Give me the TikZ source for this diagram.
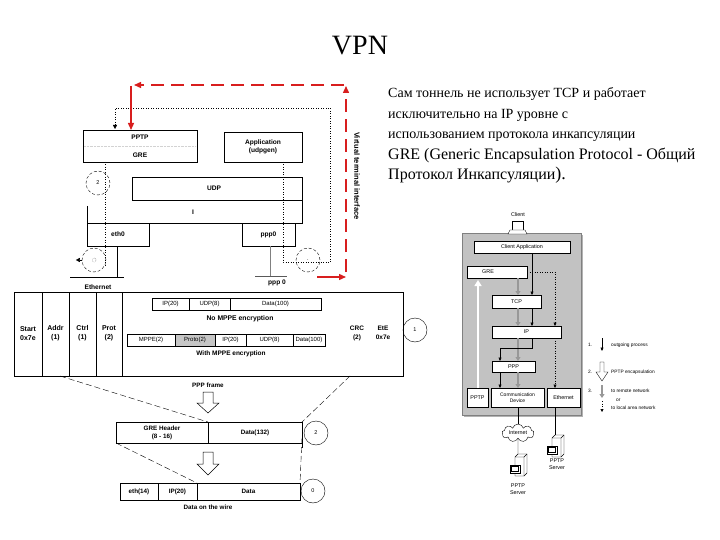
\documentclass[tikz,border=0pt]{standalone}
\usepackage{fontspec}
\setmainfont{Liberation Serif}
\setsansfont{Liberation Sans}
\usetikzlibrary{arrows.meta,shapes.symbols}
\definecolor{redarr}{HTML}{D81E1E}
\definecolor{panelgray}{HTML}{C2C2C2}
\definecolor{arrgray}{HTML}{989898}
\newcommand\hollowdown[4]{%
  \draw[line width=0.5pt,fill=white] (#1-5,#2) -- (#1+5,#2) -- (#1+5,#4) -- (#1+11,#4) -- (#1,#3) -- (#1-11,#4) -- (#1-5,#4) -- cycle;}
\newcommand\servericon[2]{%
  \draw[line width=0.4pt,fill=white] (#1-4,#2-9) -- (#1-1,#2-12) -- (#1+8,#2-12) -- (#1+8,#2+7) -- (#1+5,#2+10) -- (#1-4,#2+10) -- cycle;
  \draw[line width=0.4pt] (#1-4,#2-9) -- (#1+5,#2-9) -- (#1+8,#2-12) (#1+5,#2-9) -- (#1+5,#2+10);
  \draw[line width=0.4pt,fill=white] (#1-9,#2-1) rectangle (#1+1,#2+7);
  \draw[line width=0.3pt] (#1-7.5,#2+0.5) rectangle (#1-0.5,#2+5.5);}
\tikzset{
  lb/.style={font=\sffamily\bfseries\fontsize{6.6}{7.6}\selectfont,inner sep=0pt,align=center},
  tlb/.style={font=\sffamily\bfseries\fontsize{7}{9}\selectfont,inner sep=0pt,align=center},
  tb/.style={font=\sffamily\fontsize{6}{7}\selectfont,inner sep=0pt,align=center},
  rl/.style={font=\sffamily\fontsize{5.4}{6.4}\selectfont,inner sep=0pt,align=center},
  lg/.style={font=\sffamily\fontsize{4.8}{5.6}\selectfont,inner sep=0pt,align=center},
  bx/.style={draw,line width=0.5pt,inner sep=0pt,outer sep=0pt,anchor=north west,fill=white},
  ring/.style={draw,circle,line width=0.4pt,minimum size=24pt,inner sep=0pt,font=\sffamily\fontsize{5.5}{6}\selectfont},
  dring/.style={ring,densely dashed},
  rdash/.style={draw=redarr,line width=1.4pt,dash pattern=on 13pt off 7pt},
  rtip/.style={-{Triangle[length=7pt,width=6pt]}},
  dotl/.style={draw,line width=0.5pt,dotted},
  dashl/.style={draw,line width=0.4pt,dash pattern=on 6pt off 3pt},
  blk/.style={draw,line width=0.5pt,-{Triangle[length=3.5pt,width=3pt]}},
  gra/.style={draw=arrgray,line width=2pt,-{Triangle[length=4pt,width=5pt]}},
  parafont/.style={font=\fontsize{14}{20}\selectfont,inner sep=0pt,anchor=base west},
  parabig/.style={font=\fontsize{16}{20}\selectfont,inner sep=0pt,anchor=base west},
}
\begin{document}
\begin{tikzpicture}[x=1pt,y=-1pt]
\useasboundingbox (0,0) rectangle (720,540);
\fill[white] (0,0) rectangle (720,540);
% title and text
\node[font=\fontsize{28}{32}\selectfont,inner sep=0pt] (title) at (360,46) {VPN};
\node[parafont] (p1) at (388,98) {Сам тоннель не использует TCP и работает};
\node[parafont] (p2) at (388,118.5) {исключительно на IP уровне с};
\node[parafont] (p3) at (388,139) {использованием протокола инкапсуляции};
\node[parabig] (p4) at (388,159.5) {GRE (Generic Encapsulation Protocol - Общий};
\node[parabig] (p5) at (388,180) {Протокол Инкапсуляции{\fontsize{18}{20}\selectfont).}};

% ===== left top diagram =====
\node[bx,minimum width=114pt,minimum height=32pt] (pptp) at (83,130) {};
\node[lb] (pptpt) at (140,137) {PPTP};
\node[lb] (gret) at (140,155) {GRE};
\draw[gray!35,line width=0.4pt,densely dotted] (84,146) -- (196,146);
\node[bx,minimum width=78pt,minimum height=30pt] (app) at (224,132) {};
\node[lb] (appt) at (263,147) {Application\\(udpgen)};
\node[bx,minimum width=170pt,minimum height=23pt] (udp) at (132,177) {};
\node[lb] (udpt) at (214,188.5) {UDP};
\node[inner sep=0pt,outer sep=0pt,anchor=north west,minimum width=215pt,minimum height=23pt] (ipb) at (87,200) {};
\draw[line width=0.5pt] (87,206) -- (ipb.south west) -- (ipb.south east) -- (ipb.north east);
\node[lb] (ipt) at (193,212) {I};
\node[bx,minimum width=62pt,minimum height=23pt,lb] (eth) at (87,223) {eth0};
\node[bx,minimum width=53pt,minimum height=23pt,lb] (ppp) at (242,223) {ppp0};

\draw[dotl,-{Triangle[length=4pt,width=4pt]}] (283,162) -- (283,262) -- (330,262) -- (330,108) -- (115,108) -- (115,129);
\draw[dotl] (105,162) -- (105,266);

\node[dring] (c2) at (98,183) {2};
\node[dring] (c0a) at (94,260) {};
\node[circle,draw,densely dotted,inner sep=0pt,minimum size=4pt,line width=0.3pt] (c0dot) at (94,260) {};
\draw[line width=0.5pt,-{Triangle[length=4pt,width=4pt]}] (c0a.west) -- ++(-6,0);
\node[dring] (c1a) at (308,260) {.};

\coordinate (ethfoot) at (117,277);
\draw[line width=0.6pt] (117,246) -- (ethfoot);
\draw[line width=0.9pt] (70,277) -- (124,277);
\node[lb] (ethl) at (98,287) {Ethernet};
\coordinate (pppfoot) at (270,276);
\draw[gray,line width=0.4pt] (270,246) -- (pppfoot);
\draw[gray!70!black,line width=0.6pt] (255,276) -- (287,276);
\node[lb] (ppp0l) at (277,283) {ppp 0};

\draw[redarr,line width=1.4pt,rtip] (317,277) -- (346,277);
\draw[rdash,rtip] (346,272) -- (346,86);
\draw[rdash,rtip] (344,85) -- (134,85);
\draw[redarr,line width=1.4pt,rtip] (131,86) -- (pptp.north -| 131,0);
\node[lb,rotate=-90,font=\sffamily\bfseries\fontsize{7.5}{9}\selectfont] (vti) at (357,176) {Virtual terminal interface};

% ===== PPP frame table =====
\node[bx,fill=none,line width=0.5pt,minimum width=389pt,minimum height=84pt] (tbl) at (14,292) {};
\foreach \xx in {42,69,96,122} \draw[line width=0.5pt] (\xx,292) -- (\xx,376);
\node[tlb] (st) at (28,333.5) {Start\\0x7e};
\node[tlb] (ad) at (55.5,333.5) {Addr\\(1)};
\node[tlb] (ct) at (82.5,333.5) {Ctrl\\(1)};
\node[tlb] (pr) at (109,333.5) {Prot\\(2)};
\node[tlb,font=\sffamily\bfseries\fontsize{6.5}{9}\selectfont] (crc) at (357,333) {CRC\\(2)};
\node[tlb,font=\sffamily\bfseries\fontsize{6.5}{9}\selectfont] (ete) at (383,333) {EtE\\0x7e};
\node[ring] (c1) at (415,330) {1};

\node[bx,tb,minimum width=37pt,minimum height=12pt] (n1) at (152,298) {IP(20)};
\node[bx,tb,minimum width=41pt,minimum height=12pt] (n2) at (189,298) {UDP(8)};
\node[bx,tb,minimum width=91pt,minimum height=12pt] (n3) at (230,298) {Data(100)};
\node[tlb,font=\sffamily\bfseries\fontsize{6.8}{8}\selectfont] (nol) at (240,319) {No MPPE encryption};

\node[bx,tb,minimum width=48pt,minimum height=12pt] (m1) at (127,334) {MPPE(2)};
\node[bx,tb,minimum width=40pt,minimum height=12pt,fill=gray!45] (m2) at (175,334) {Proto(2)};
\node[bx,tb,minimum width=31pt,minimum height=12pt] (m3) at (215,334) {IP(20)};
\node[bx,tb,minimum width=47pt,minimum height=12pt] (m4) at (246,334) {UDP(8)};
\node[bx,tb,minimum width=32pt,minimum height=12pt] (m5) at (293,334) {Data(100)};
\node[tlb,font=\sffamily\bfseries\fontsize{6.5}{8}\selectfont] (withl) at (231,354) {With MPPE encryption};

\node[tlb,font=\sffamily\bfseries\fontsize{6.3}{7}\selectfont] (pppf) at (208,385) {PPP frame};
\hollowdown{208}{392}{413}{403}

% GRE row
\node[bx,tb,minimum width=92pt,minimum height=21pt,font=\sffamily\bfseries\fontsize{6.3}{8}\selectfont] (gh) at (116,422) {GRE Header\\(8 - 16)};
\node[bx,tb,minimum width=94pt,minimum height=21pt,font=\sffamily\bfseries\fontsize{6.3}{8}\selectfont] (gd) at (208,422) {Data(132)};
\draw[line width=0.5pt] (gd.south east) -- ++(0,5);
\node[ring] (c2b) at (316,433) {2};
\draw[dashl] (60,376) -- (gh.north east);
\draw[dashl] (350,376) -- (gd.north east);

\hollowdown{208}{452}{475}{464}

\node[bx,tb,minimum width=38pt,minimum height=17pt,font=\sffamily\bfseries\fontsize{6.3}{8}\selectfont] (w1) at (120,483) {eth(14)};
\node[bx,tb,minimum width=39pt,minimum height=17pt,font=\sffamily\bfseries\fontsize{6.3}{8}\selectfont] (w2) at (158,483) {IP(20)};
\node[bx,tb,minimum width=103pt,minimum height=17pt,font=\sffamily\bfseries\fontsize{6.3}{8}\selectfont] (w3) at (197,483) {Data};
\node[ring] (c0b) at (313,491) {0};
\draw[dashl] (gh.south west) -- (w3.north west);
\draw[dashl] ([yshift=5pt]gd.south east) -- (w3.north east);
\node[tlb,font=\sffamily\bfseries\fontsize{6.3}{8}\selectfont] (dow) at (208,507) {Data on the wire};

% ===== right diagram =====
\fill[gray!60] (464,235) rectangle (583,417);
\node[bx,fill=panelgray,draw=gray,minimum width=119pt,minimum height=182pt] (panel) at (462,233) {};
\node[rl] (clientl) at (518,215) {Client};
\draw[line width=0.4pt,fill=white] (512,221) rectangle (523,230);
\draw[line width=0.4pt,fill=white] (510,230) -- (525,230) -- (527,234) -- (508,234) -- cycle;
\node[inner sep=0pt] (clienticon) at (518,228) {};

\node[bx,rl,minimum width=96pt,minimum height=12pt] (capp) at (474,241) {Client Application};
\node[bx,minimum width=60pt,minimum height=12pt] (gre) at (467,266) {};
\node[rl] (grel) at (488,272) {GRE};
\node[bx,rl,minimum width=49pt,minimum height=13pt] (tcp) at (492,295) {TCP};
\node[bx,rl,minimum width=69pt,minimum height=12pt] (ip) at (492,326) {IP};
\node[bx,rl,minimum width=43pt,minimum height=11pt] (pppr) at (492,361) {PPP};
\node[bx,rl,minimum width=21pt,minimum height=19pt] (pptpr) at (467,388) {PPTP};
\node[bx,rl,minimum width=53pt,minimum height=19pt,font=\sffamily\fontsize{5}{6.4}\selectfont] (comm) at (491,388) {Communication\\Device};
\node[bx,rl,minimum width=33pt,minimum height=19pt] (ethr) at (547,388) {Ethernet};

\draw[white,line width=2.5pt,-{Triangle[length=6pt,width=7pt]}] (pptpr.north -| 478,0) -- (478,280);

\draw[gra] (gre.south -| 518,0) -- (tcp.north -| 518,0);
\draw[gra] (tcp.south -| 518,0) -- (ip.north -| 518,0);
\draw[gra] (ip.south -| 518,0) -- (pppr.north -| 518,0);
\draw[gra] (pppr.south -| 518,0) -- (comm.north -| 518,0);

\draw[blk] (capp.south -| 532,0) -- (tcp.north -| 532,0);
\draw[blk] (tcp.south -| 532,0) -- (ip.north -| 532,0);
\draw[blk] (ip.south -| 532,0) -- (532,348) -- (500,348) -- (pppr.north -| 500,0);
\draw[blk] (pppr.south -| 500,0) -- (comm.north -| 500,0);

\draw[dotl,-{Triangle[length=3.5pt,width=3pt]}] (gre.east) -- (555,272) -- (ip.north -| 555,0);
\draw[dotl,-{Triangle[length=3.5pt,width=3pt]}] (ip.south -| 555,0) -- (ethr.north -| 555,0);

\node[cloud,draw,fill=white,line width=0.4pt,cloud puffs=9,aspect=2.2,minimum width=32pt,minimum height=15pt,inner sep=0pt,rl] (inet) at (518,433) {Internet};
\draw[line width=0.4pt] (comm.south -| 518,0) -- (inet.north);
\coordinate (srv1) at (519,466);
\draw[line width=0.4pt] (inet.south) -- (518,454);
\servericon{519}{466}
\node[rl] (srv1l) at (518,489) {PPTP\\Server};
\coordinate (srv2) at (556,447);
\draw[line width=0.4pt] (ethr.south -| 555,0) -- (555,435);
\servericon{556}{447}
\node[rl] (srv2l) at (557,464) {PPTP\\Server};

% legend
\node[lg,anchor=center] (l1n) at (590,345) {1.};
\draw[blk] (602,338) -- (602,351);
\node[lg,anchor=west] (l1t) at (611,345) {outgoing process};
\node[lg] (l2n) at (590,372) {2.};
\draw[line width=0.4pt,fill=white] (600,362) -- (604,362) -- (604,372) -- (608,372) -- (602,381) -- (596,372) -- (600,372) -- cycle;
\node[lg,anchor=west] (l2t) at (611,372) {PPTP encapsulation};
\node[lg] (l3n) at (590,391) {3.};
\draw[gra] (602,385) -- (602,398);
\node[lg,anchor=west] (l3t) at (611,391) {to remote network};
\node[lg,anchor=west] (l3o) at (616,400) {or};
\node[lg,anchor=west] (l3u) at (611,408) {to local area network};
\draw[dotl,-{Triangle[length=3pt,width=3pt]}] (602,401) -- (602,412);
\end{tikzpicture}
\end{document}
